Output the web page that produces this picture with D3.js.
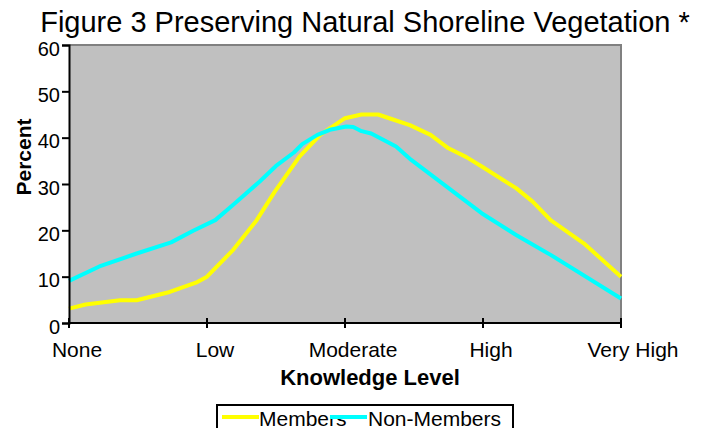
<!DOCTYPE html>
<html>
<head>
<meta charset="utf-8">
<script src="https://cdn.jsdelivr.net/npm/d3@7"></script>
<style>
  body{margin:0;background:#fff;}
  svg{display:block;font-family:"Liberation Sans",Arial,sans-serif;}
</style>
</head>
<body>
<svg id="chart" width="702" height="428"></svg>
<script>
// knowledge level categories along the x axis
const levels = ["None", "Low", "Moderate", "High", "Very High"];
const yTicks = [0, 10, 20, 30, 40, 50, 60];

// position on the level axis (0 = None .. 4 = Very High) and percent
const membersLevel = [0, 0.12, 0.37, 0.49, 0.73, 0.92, 1.0, 1.19, 1.36, 1.49, 1.67, 1.82, 2.0, 2.12, 2.24, 2.31, 2.47, 2.62, 2.75, 2.88, 3.0, 3.24, 3.36, 3.49, 3.73, 4.0];
const membersPct   = [3.1, 4.0, 4.9, 4.9, 6.7, 8.7, 10.0, 15.8, 22.2, 28.3, 35.9, 40.6, 44.2, 45.0, 45.0, 44.3, 42.7, 40.6, 37.7, 35.8, 33.6, 29.1, 26.2, 22.2, 17.2, 10.0];

const nonMembersLevel = [0, 0.22, 0.49, 0.74, 0.9, 1.06, 1.19, 1.38, 1.5, 1.63, 1.69, 1.8, 1.89, 2.01, 2.06, 2.12, 2.19, 2.37, 2.48, 2.99, 3.24, 3.49, 4.0];
const nonMembersPct   = [9.1, 12.2, 15.0, 17.4, 19.9, 22.2, 25.5, 30.5, 33.9, 36.8, 38.6, 40.6, 41.7, 42.4, 42.3, 41.4, 40.9, 38.1, 35.2, 23.7, 19.0, 14.7, 5.3];

const series = [
    {name: "Members", color: "#ffff00", xs: membersLevel, ys: membersPct},
    {name: "Non-Members", color: "#00ffff", xs: nonMembersLevel, ys: nonMembersPct}
];

const svg = d3.select("#chart");
const plotL = 69, plotR = 621, plotT = 45, plotB = 323;//plot area edges in px

const x = d3.scaleLinear().domain([0, levels.length - 1]).range([plotL, plotR]);
const y = d3.scaleLinear().domain([0, 60]).range([plotB, plotT]);

// title
svg.append("text")
    .attr("x", 365).attr("y", 32)
    .attr("text-anchor", "middle")
    .style("font-size", "29px")
    .text("Figure 3 Preserving Natural Shoreline Vegetation *");

// plot area
svg.append("rect")
    .attr("x", plotL).attr("y", plotT)
    .attr("width", plotR - plotL).attr("height", plotB - plotT)
    .attr("fill", "#c0c0c0");
svg.append("path")
    .attr("d", `M${plotL},${plotT}H${plotR}V${plotB}`)
    .attr("fill", "none").attr("stroke", "#808080").attr("stroke-width", 2);

// lines
const line = d3.line()
    .x(d => x(d[0]))
    .y(d => y(d[1]));
series.forEach(s => {
    svg.append("path")
        .datum(s.xs.map((v, i) => [v, s.ys[i]]))
        .attr("d", line)
        .attr("fill", "none")
        .attr("stroke", s.color)
        .attr("stroke-width", 4)
        .attr("stroke-linejoin", "round");
});

// y axis
const yAxis = svg.append("g")
    .attr("transform", `translate(${plotL},0)`)
    .call(d3.axisLeft(y).tickValues(yTicks).tickSize(7).tickPadding(2));
yAxis.select(".domain").attr("stroke", "#000").attr("stroke-width", 2);
yAxis.selectAll(".tick line").attr("stroke", "#000").attr("stroke-width", 2);
yAxis.selectAll(".tick text")
    .attr("dy", "0.5em")
    .style("font-size", "20px").style("font-family", "'Liberation Sans',Arial,sans-serif")
    .attr("fill", "#000");

// x axis
svg.append("line")
    .attr("x1", plotL - 1).attr("x2", plotR + 1)
    .attr("y1", plotB).attr("y2", plotB)
    .attr("stroke", "#000").attr("stroke-width", 2);
const xt = svg.append("g").selectAll("g").data(levels).join("g")
    .attr("transform", (d, i) => `translate(${x(i)},${plotB})`);
xt.append("line")
    .attr("y1", -5).attr("y2", 5)
    .attr("stroke", "#000").attr("stroke-width", 2);
xt.append("text")
    .attr("x", (d, i) => i === levels.length - 1 ? 12 : 8).attr("y", 34)
    .attr("text-anchor", "middle")
    .style("font-size", "21px")
    .text(d => d);

// axis titles
svg.append("text")
    .attr("x", 370).attr("y", 385)
    .attr("text-anchor", "middle")
    .style("font-size", "22px").style("font-weight", "bold")
    .text("Knowledge Level");
svg.append("text")
    .attr("transform", "translate(31,157) rotate(-90)")
    .attr("text-anchor", "middle")
    .style("font-size", "21px").style("font-weight", "bold")
    .text("Percent");

// legend (box runs past the bottom edge, as in the original)
const lg = svg.append("g");
lg.append("rect")
    .attr("x", 217).attr("y", 405)
    .attr("width", 296).attr("height", 40)
    .attr("fill", "#fff").attr("stroke", "#000").attr("stroke-width", 2);
const legendPos = [{lx: 222, tx: 259}, {lx: 330, tx: 368}];
series.forEach((s, i) => {
    const p = legendPos[i];
    lg.append("text")
        .attr("x", p.tx).attr("y", 426)
        .style("font-size", "21px")
        .text(s.name);
    lg.append("line")
        .attr("x1", p.lx).attr("x2", p.lx + 37)
        .attr("y1", 417).attr("y2", 417)
        .attr("stroke", s.color).attr("stroke-width", 4);
});
</script>
</body>
</html>
